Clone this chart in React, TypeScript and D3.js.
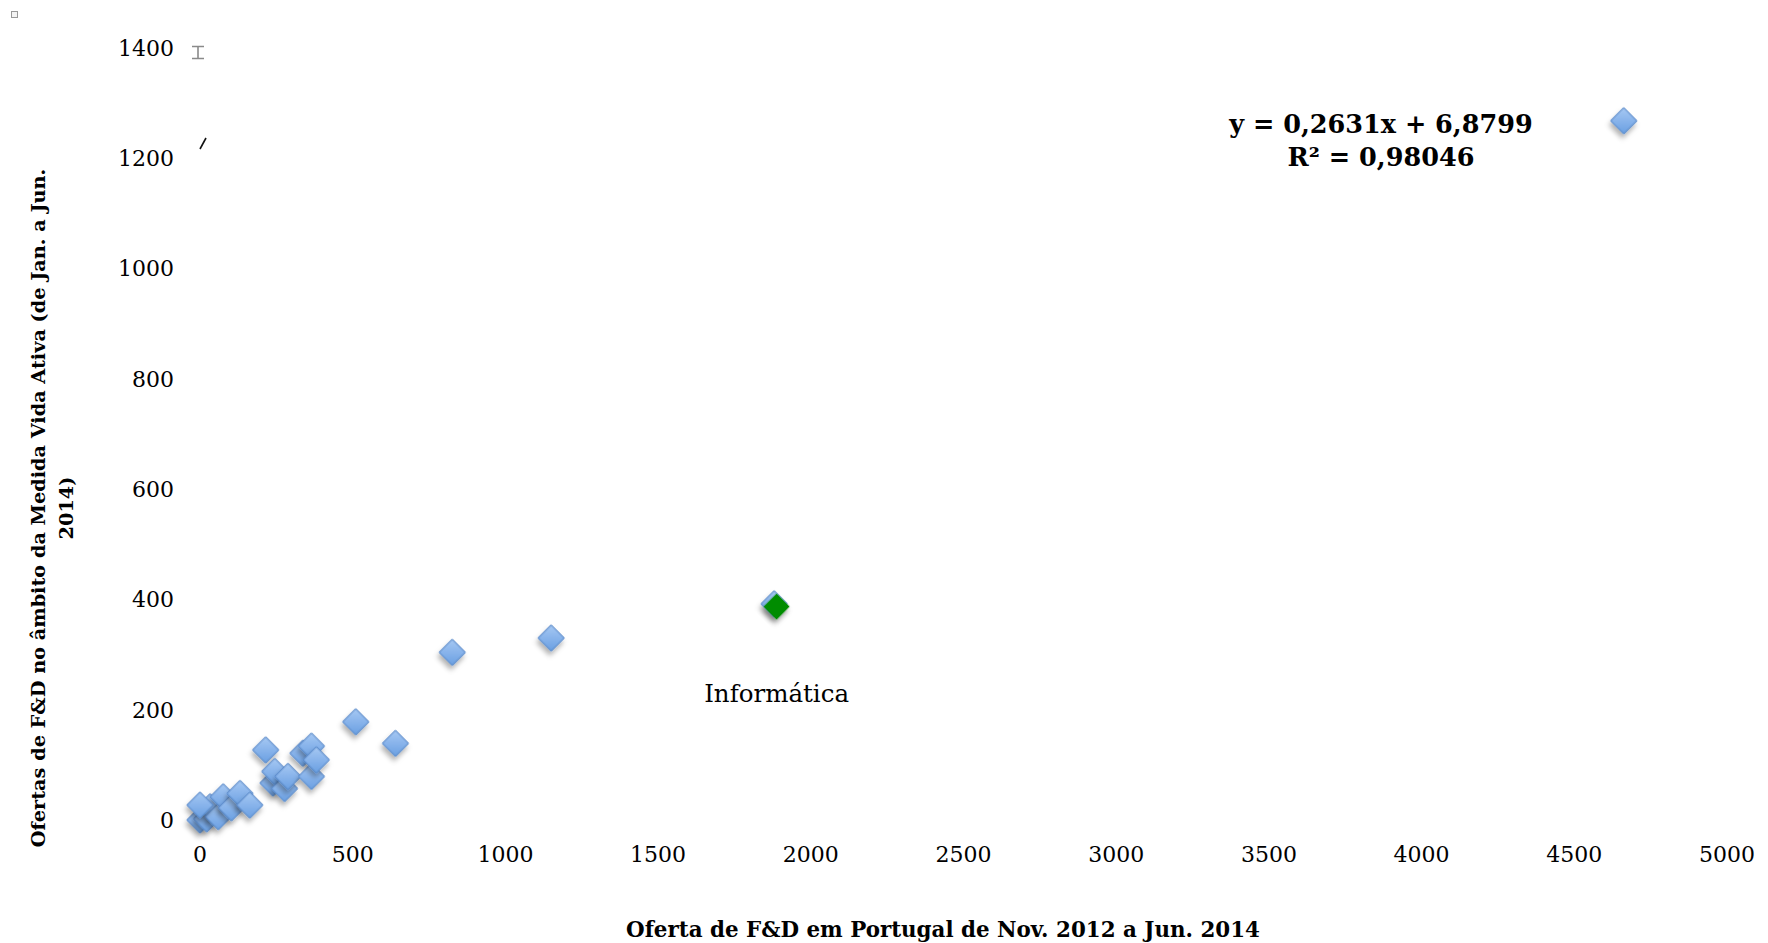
import React, { useEffect, useRef } from 'react';
import * as d3 from 'd3';

const WIDTH = 1768;
const HEIGHT = 943;

// tick values
const xTicks = [0, 500, 1000, 1500, 2000, 2500, 3000, 3500, 4000, 4500, 5000];
const yTicks = [0, 200, 400, 600, 800, 1000, 1200, 1400];

// F&D offers: Portugal (x) vs Vida Ativa (y), one entry per area
const offerPortugal = [0, 22, 33, 60, 76, 103, 131, 163, 0, 215, 239, 245, 277, 288, 337, 365, 365, 381, 510, 640, 826, 1150, 1880, 4662];
const offerVidaAtiva = [0, 2, 24, 6, 42, 22, 48, 27, 27, 127, 67, 88, 57, 79, 121, 134, 79, 109, 178, 139, 304, 330, 392, 1268];

// highlighted point
const highlightName = ['Informática'];
const highlightX = [1888];
const highlightY = [387];

const trendLines = ['y = 0,2631x + 6,8799', 'R² = 0,98046'];
const xTitle = 'Oferta de F&D em Portugal de Nov. 2012 a Jun. 2014';
const yTitle = ['Ofertas de F&D no âmbito da Medida Vida Ativa (de Jan. a Jun.', '2014)'];

export default function App() {
  const svgRef = useRef<SVGSVGElement>(null);

  useEffect(() => {
    if (!svgRef.current) return;
    const svg = d3.select(svgRef.current);
    svg.selectAll('*').remove();

    const font = "'DejaVu Serif', serif";
    const x = d3.scaleLinear().domain([0, 5000]).range([200, 1727]);
    const y = d3.scaleLinear().domain([0, 1400]).range([820, 48]);

    const defs = svg.append('defs');
    const grad = defs.append('linearGradient')
      .attr('id', 'blueFill')
      .attr('x1', 0).attr('y1', 0).attr('x2', 1).attr('y2', 1);
    grad.append('stop').attr('offset', '0%').attr('stop-color', '#a6c8f3');
    grad.append('stop').attr('offset', '100%').attr('stop-color', '#6a9fe2');

    const filter = defs.append('filter')
      .attr('id', 'shadow')
      .attr('x', '-50%').attr('y', '-50%')
      .attr('width', '200%').attr('height', '200%');
    filter.append('feDropShadow')
      .attr('dx', 2).attr('dy', 4)
      .attr('stdDeviation', 2.5)
      .attr('flood-color', '#000')
      .attr('flood-opacity', 0.3);

    // stray marks seen in the original
    svg.append('rect')
      .attr('x', 11.5).attr('y', 11.5).attr('width', 6).attr('height', 6)
      .attr('fill', '#f4f4f4').attr('stroke', '#999');
    svg.append('path')
      .attr('d', 'M192,46.5H204M198,46.5V58.5M192,58.5H204')
      .attr('stroke', '#8a8a8a').attr('stroke-width', 1.6).attr('fill', 'none');
    svg.append('path')
      .attr('d', 'M200,149L206,138')
      .attr('stroke', '#111').attr('stroke-width', 1.6);

    // y tick labels
    svg.append('g').selectAll('text')
      .data(yTicks)
      .enter()
      .append('text')
      .attr('x', 174)
      .attr('y', d => y(d))
      .attr('dy', '0.36em')
      .attr('text-anchor', 'end')
      .style('font-family', font)
      .style('font-size', '22px')
      .style('fill', '#000')
      .text(d => d);

    // x tick labels
    svg.append('g').selectAll('text')
      .data(xTicks)
      .enter()
      .append('text')
      .attr('x', d => x(d))
      .attr('y', 862)
      .attr('text-anchor', 'middle')
      .style('font-family', font)
      .style('font-size', '22px')
      .style('fill', '#000')
      .text(d => d);

    const diamond = d3.symbol().type(d3.symbolSquare).size(340);
    const pts = offerPortugal.map((v, i) => [v, offerVidaAtiva[i]]);

    svg.append('g').selectAll('path')
      .data(pts)
      .enter()
      .append('path')
      .attr('d', diamond)
      .attr('transform', d => `translate(${x(d[0])},${y(d[1])}) rotate(45)`)
      .attr('fill', 'url(#blueFill)')
      .attr('stroke', '#5689c9')
      .attr('stroke-width', 1)
      .attr('filter', 'url(#shadow)');

    // Informática highlighted
    svg.append('g').selectAll('path')
      .data(highlightX.map((v, i) => [v, highlightY[i]]))
      .enter()
      .append('path')
      .attr('d', diamond)
      .attr('transform', d => `translate(${x(d[0])},${y(d[1])}) rotate(45)`)
      .attr('fill', '#048c04')
      .attr('filter', 'url(#shadow)');

    svg.append('text')
      .attr('x', x(highlightX[0]))
      .attr('y', 702)
      .attr('text-anchor', 'middle')
      .style('font-family', font)
      .style('font-size', '24.5px')
      .text(highlightName[0]);

    // trendline equation
    svg.append('g').selectAll('text')
      .data(trendLines)
      .enter()
      .append('text')
      .attr('x', 1381)
      .attr('y', (d, i) => 133 + i * 33)
      .attr('text-anchor', 'middle')
      .style('font-family', font)
      .style('font-weight', 'bold')
      .style('font-size', '25.5px')
      .text(d => d);

    // axis titles
    svg.append('text')
      .attr('x', 943)
      .attr('y', 937)
      .attr('text-anchor', 'middle')
      .style('font-family', font)
      .style('font-weight', 'bold')
      .style('font-size', '21.4px')
      .text(xTitle);

    const yt = svg.append('g').attr('transform', 'translate(38,508) rotate(-90)');
    yt.selectAll('text')
      .data(yTitle)
      .enter()
      .append('text')
      .attr('x', 0)
      .attr('y', (d, i) => i * 28)
      .attr('dy', '0.35em')
      .attr('text-anchor', 'middle')
      .style('font-family', font)
      .style('font-weight', 'bold')
      .style('font-size', '19.3px')
      .text(d => d);
  }, []);

  return (
    <svg
      ref={svgRef}
      width={WIDTH}
      height={HEIGHT}
      style={{ position: 'absolute', left: 0, top: 0, background: '#fff' }}
    />
  );
}
